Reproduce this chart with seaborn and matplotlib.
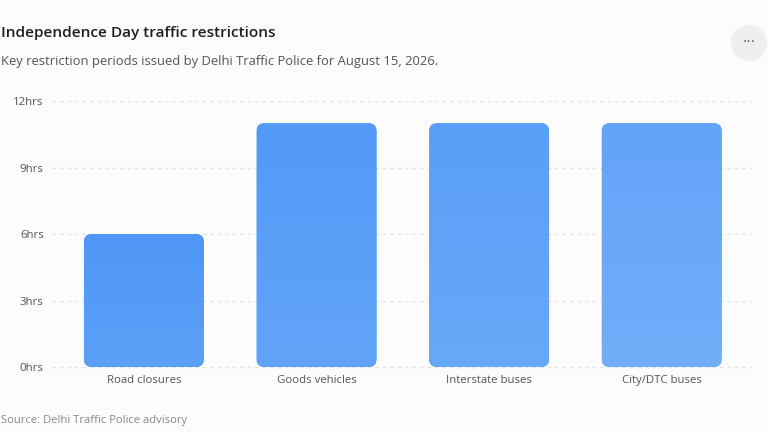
import numpy as np
import pandas as pd
import matplotlib
matplotlib.use("Agg")
import matplotlib.pyplot as plt
import seaborn as sns
from matplotlib.patches import FancyBboxPatch, Ellipse
from matplotlib.colors import LinearSegmentedColormap

categories = ["Road closures", "Goods vehicles", "Interstate buses", "City/DTC buses"]
hours = [6, 11, 11, 11]
y_ticks = [0, 3, 6, 9, 12]
y_tick_labels = ["0hrs", "3hrs", "6hrs", "9hrs", "12hrs"]
top_colors = ["#4f96f6", "#5399f7", "#5a9ef7", "#63a3f8"]
bottom_colors = ["#5ca0f7", "#62a4f8", "#68a8f8", "#72adf9"]

title = "Independence Day traffic restrictions"
subtitle = "Key restriction periods issued by Delhi Traffic Police for August 15, 2026."
source = "Source: Delhi Traffic Police advisory"

sns.set_theme(style="white")
plt.rcParams["font.family"] = ["Open Sans", "DejaVu Sans"]

BG = "#fcfcfc"
W, H = 768, 432
fig = plt.figure(figsize=(7.68, 4.32), dpi=100, facecolor=BG)
ax = fig.add_axes([0.075, 0.1505, 0.899, 0.6155], facecolor=BG)

df = pd.DataFrame({"category": categories, "hours": hours})
sns.barplot(data=df, x="category", y="hours", ax=ax, width=0.695,
            color=top_colors[0], saturation=1, zorder=3)

ax.set_ylim(0, 12)
ax.set_xlim(-0.5, len(categories) - 0.5)
ax.set_yticks(y_ticks)
ax.set_yticklabels(y_tick_labels)
ax.set_xlabel("")
ax.set_ylabel("")
for s in ax.spines.values():
    s.set_visible(False)
ax.tick_params(axis="both", length=0, labelsize=8.2, colors="#555555")
ax.tick_params(axis="y", pad=10)
ax.tick_params(axis="x", pad=6)

for yv in y_ticks:
    ax.plot([-0.53, len(categories) - 0.48], [yv, yv], color="#e3e3e3",
            lw=0.9, ls=(0, (3, 3)), zorder=1, clip_on=False)

px_x = 1 / 172.7
px_y = 3 / 66.5
r = 8 * px_x
aspect = px_y / px_x
patches = list(ax.patches)
for i, p in enumerate(patches):
    x0, y0 = p.get_x(), p.get_y()
    w, h = p.get_width(), p.get_height()
    p.set_visible(False)
    fb = FancyBboxPatch((x0, y0), w, h,
                        boxstyle=f"round,pad=0,rounding_size={r}",
                        mutation_aspect=aspect, facecolor=top_colors[i],
                        edgecolor="none", zorder=3)
    ax.add_patch(fb)
    cmap = LinearSegmentedColormap.from_list(f"g{i}", [bottom_colors[i], top_colors[i]])
    grad = np.linspace(0, 1, 256).reshape(-1, 1)
    im = ax.imshow(grad, cmap=cmap, origin="lower", aspect="auto",
                   extent=[x0, x0 + w, y0, y0 + h], zorder=4)
    im.set_clip_path(fb)

ax.set_xlim(-0.5, len(categories) - 0.5)
ax.set_ylim(0, 12)

fig.text(1 / W, 1 - 33 / H, title, fontsize=11.1, color="#1f1f1f",
         fontweight="semibold", va="center", ha="left")
fig.text(1 / W, 1 - 62 / H, subtitle, fontsize=9.4, color="#555555",
         va="center", ha="left")
fig.text(1 / W, 1 - 421 / H, source, fontsize=8.1, color="#888888",
         va="center", ha="left")

btn = Ellipse((749 / W, 1 - 43 / H), 36 / W, 36 / H, transform=fig.transFigure,
              facecolor="#efefef", edgecolor="none")
fig.patches.append(btn)
fig.text(749 / W, 1 - 42 / H, "···", fontsize=10, color="#555555",
         ha="center", va="center", family="DejaVu Sans")

fig.savefig("out.png", dpi=100, facecolor=BG)
